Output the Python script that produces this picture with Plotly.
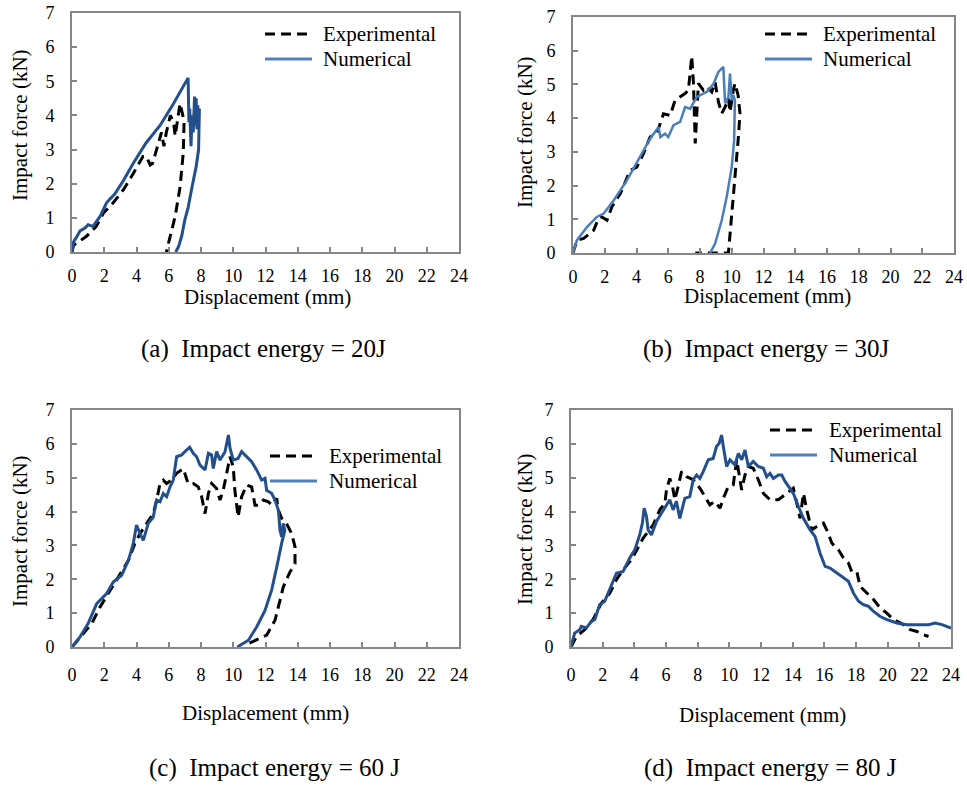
import plotly.graph_objects as go

# ---------------- DATA ----------------
x_ticks = list(range(0, 25, 2))
y_ticks = list(range(0, 8))

a_exp_x = [0, 0.1, 0.3, 0.9, 1.5, 1.95, 2.55, 3.2, 3.8, 4.4, 4.6, 4.85, 5.0, 5.35, 5.55, 5.7, 5.85, 6.1, 6.3, 6.4, 6.7, 6.85, 6.95, 6.9, 6.7, 6.4, 6.1, 5.9, 5.85]
a_exp_y = [0, 0.2, 0.26, 0.46, 0.75, 1.14, 1.44, 1.83, 2.3, 2.8, 2.8, 2.55, 2.6, 3.2, 3.5, 3.1, 3.5, 4.0, 3.8, 3.4, 4.35, 4.05, 3.8, 2.9, 1.9, 1.05, 0.46, 0.07, 0]
a_num_x = [0, 0.1, 0.3, 0.5, 0.8, 1.0, 1.3, 1.75, 2.15, 2.65, 3.2, 3.8, 4.6, 5.45, 6.3, 7.2, 7.25, 7.3, 7.38, 7.45, 7.52, 7.6, 7.65, 7.7, 7.75, 7.8, 7.85, 7.9, 7.85, 7.7, 7.45, 7.2, 7.0, 6.8, 6.6, 6.43]
a_num_y = [0, 0.3, 0.45, 0.62, 0.7, 0.8, 0.75, 1.05, 1.45, 1.7, 2.1, 2.6, 3.2, 3.7, 4.35, 5.1, 3.8, 4.2, 3.1, 4.0, 3.5, 4.55, 3.7, 4.5, 3.6, 4.3, 3.6, 4.2, 3.0, 2.5, 1.92, 1.3, 0.95, 0.46, 0.15, 0]

b_exp_x = [0, 0.25, 0.67, 1.3, 1.6, 1.82, 2.14, 2.45, 2.98, 3.6, 4.02, 4.44, 4.86, 5.28, 5.7, 6.12, 6.43, 7.06, 7.27, 7.48, 7.59, 7.7, 7.9, 8.21, 8.43, 8.74, 8.95, 9.16, 9.37, 9.58, 9.79, 9.89, 10.1, 10.2, 10.4, 10.52, 10.4, 10.3, 10.2, 10.06, 9.9, 9.79, 7.7]
b_exp_y = [0, 0.38, 0.43, 0.67, 1.02, 1.07, 0.97, 1.37, 1.76, 2.45, 2.55, 2.95, 3.44, 3.54, 4.13, 4.08, 4.53, 4.73, 4.83, 5.84, 5.02, 3.25, 5.03, 4.83, 4.93, 4.78, 5.07, 4.48, 4.14, 4.33, 4.58, 4.18, 4.83, 5.03, 4.68, 4.14, 3.34, 2.75, 2.36, 1.37, 0.38, 0.0, 0.0]
b_num_x = [0, 0.25, 0.88, 1.5, 1.93, 2.56, 3.4, 4.23, 4.86, 5.39, 5.5, 5.8, 6.0, 6.33, 6.75, 7.06, 7.38, 7.8, 8.43, 8.85, 9.16, 9.47, 9.58, 9.79, 9.89, 10.0, 10.1, 10.2, 10.15, 10.0, 9.68, 9.37, 8.95, 8.64]
b_num_y = [0, 0.38, 0.77, 1.07, 1.17, 1.56, 2.16, 2.85, 3.39, 3.74, 3.44, 3.54, 3.44, 3.79, 3.89, 4.33, 4.28, 4.63, 4.78, 5.02, 5.37, 5.52, 4.44, 4.63, 5.32, 4.53, 4.68, 4.53, 3.34, 2.55, 1.66, 0.97, 0.28, 0]

c_exp_x = [0, 0.6, 1.22, 1.74, 2.36, 2.98, 3.5, 3.9, 4.22, 4.63, 5.04, 5.25, 5.46, 5.66, 5.87, 6.18, 6.49, 6.9, 7.2, 7.52, 7.83, 8.04, 8.25, 8.46, 8.66, 8.97, 9.18, 9.38, 9.59, 9.8, 10.0, 10.1, 10.3, 10.52, 10.83, 11.14, 11.35, 11.55, 11.87, 12.18, 12.38, 12.69, 12.8, 13.0, 13.3, 13.62, 13.83, 13.83, 13.52, 13.3, 13.1, 12.9, 12.59, 12.07, 11.45, 10.94]
c_exp_y = [0, 0.35, 0.69, 1.18, 1.68, 2.17, 2.56, 3.06, 3.35, 3.65, 3.94, 4.34, 4.83, 4.93, 4.83, 4.93, 5.13, 5.27, 4.83, 4.83, 4.73, 4.44, 3.94, 4.54, 4.83, 4.68, 4.34, 4.63, 5.13, 5.62, 5.32, 4.63, 3.84, 4.44, 4.78, 4.73, 4.19, 4.19, 4.34, 4.29, 4.19, 4.39, 4.04, 3.8, 3.65, 3.35, 2.96, 2.46, 2.22, 1.97, 1.77, 1.38, 0.79, 0.35, 0.2, 0.1]
c_num_x = [0, 0.5, 1.0, 1.53, 2.15, 2.56, 3.08, 3.5, 3.8, 4.0, 4.22, 4.42, 4.73, 5.04, 5.25, 5.46, 5.66, 5.87, 6.08, 6.28, 6.49, 6.8, 7.0, 7.3, 7.52, 7.73, 7.94, 8.25, 8.46, 8.66, 8.76, 8.97, 9.18, 9.49, 9.7, 9.8, 10.0, 10.3, 10.52, 10.83, 11.14, 11.45, 11.76, 11.97, 12.07, 12.38, 12.59, 12.8, 12.9, 13.0, 13.1, 13.2, 13.0, 12.7, 12.38, 11.97, 11.45, 10.94, 10.25]
c_num_y = [0, 0.3, 0.69, 1.28, 1.58, 1.92, 2.12, 2.56, 3.06, 3.6, 3.35, 3.15, 3.65, 3.84, 4.34, 4.29, 4.53, 4.44, 4.73, 4.93, 5.62, 5.67, 5.77, 5.9, 5.72, 5.62, 5.37, 5.23, 5.72, 5.67, 5.27, 5.77, 5.52, 5.77, 6.26, 5.87, 5.52, 5.57, 5.77, 5.62, 5.47, 5.23, 4.93, 4.98, 4.63, 4.54, 4.34, 4.04, 3.45, 3.25, 3.65, 3.45, 3.06, 2.37, 1.68, 1.08, 0.59, 0.2, 0]

d_exp_x = [0, 0.34, 0.86, 1.39, 1.92, 2.45, 2.87, 3.29, 3.82, 4.24, 4.55, 4.87, 5.19, 5.61, 5.93, 6.03, 6.24, 6.41, 6.56, 6.77, 6.98, 7.3, 7.72, 8.14, 8.46, 8.77, 9.09, 9.41, 9.62, 9.93, 10.25, 10.46, 10.57, 10.78, 10.99, 11.2, 11.51, 11.83, 12.15, 12.57, 13.1, 13.62, 14.04, 14.26, 14.47, 14.68, 14.89, 15.2, 15.52, 15.94, 16.25, 16.47, 16.89, 17.21, 17.52, 17.73, 18.05, 18.26, 18.68, 19.11, 19.53, 19.95, 20.37, 21.0, 21.43, 21.85, 22.27, 22.58]
d_exp_y = [0, 0.31, 0.51, 0.81, 1.3, 1.59, 1.99, 2.28, 2.58, 2.92, 3.21, 3.41, 3.61, 4.05, 4.25, 4.64, 4.98, 4.74, 4.35, 4.74, 5.18, 5.03, 4.94, 4.69, 4.44, 4.2, 4.3, 4.1, 4.39, 4.74, 4.79, 5.53, 5.23, 4.64, 5.08, 5.33, 5.28, 4.94, 4.54, 4.35, 4.35, 4.54, 4.69, 4.25, 3.8, 4.54, 4.05, 3.46, 3.56, 3.66, 3.36, 3.07, 2.87, 2.63, 2.48, 2.23, 2.23, 1.79, 1.59, 1.4, 1.15, 1.0, 0.81, 0.66, 0.51, 0.46, 0.36, 0.31]
d_num_x = [0, 0.23, 0.55, 0.65, 0.97, 1.29, 1.5, 1.81, 2.13, 2.45, 2.87, 3.29, 3.71, 4.03, 4.34, 4.51, 4.62, 4.77, 4.87, 5.08, 5.4, 5.71, 6.03, 6.24, 6.45, 6.66, 6.87, 7.19, 7.5, 7.72, 7.93, 8.14, 8.35, 8.67, 8.98, 9.19, 9.36, 9.51, 9.62, 9.83, 10.04, 10.35, 10.57, 10.78, 10.99, 11.2, 11.51, 11.83, 12.15, 12.36, 12.57, 12.78, 13.1, 13.31, 13.52, 13.73, 14.04, 14.36, 14.68, 15.1, 15.42, 15.73, 16.05, 16.36, 16.79, 17.21, 17.52, 17.84, 18.16, 18.47, 18.79, 19.11, 19.53, 19.95, 20.58, 21.21, 22.06, 22.58, 23.0, 23.43, 24.0]
d_num_y = [0, 0.41, 0.51, 0.61, 0.56, 0.76, 0.81, 1.25, 1.35, 1.69, 2.18, 2.23, 2.63, 2.87, 3.31, 3.66, 4.1, 3.85, 3.46, 3.31, 3.71, 3.95, 4.2, 4.35, 4.05, 4.3, 3.8, 4.39, 4.44, 4.94, 5.08, 4.98, 5.18, 5.53, 5.57, 5.92, 6.02, 6.26, 5.92, 5.33, 5.53, 5.38, 5.72, 5.53, 5.82, 5.33, 5.48, 5.33, 5.28, 5.03, 5.13, 4.98, 5.08, 5.08, 4.89, 4.74, 4.54, 4.15, 3.8, 3.46, 3.26, 2.77, 2.38, 2.33, 2.18, 2.04, 1.94, 1.59, 1.35, 1.25, 1.2, 1.05, 0.9, 0.81, 0.71, 0.66, 0.66, 0.66, 0.71, 0.66, 0.56]

captions = ["(a)\u00a0\u00a0Impact energy = 20J", "(b)\u00a0\u00a0Impact energy = 30J",
            "(c)\u00a0\u00a0Impact energy = 60 J", "(d)\u00a0\u00a0Impact energy = 80 J"]
series_names = ["Experimental", "Numerical"]
x_title = "Displacement (mm)"
y_title = "Impact force (kN)"

# ---------------- LAYOUT ----------------
W, H = 967, 785
FONT = "Liberation Serif"
FRAME = "#868686"
EXP_COLOR = "black"
NUM_DARK = "#23508C"
NUM_LIGHT = "#4A7EBB"

def px_x(p):
    return p / W

def px_y(p):
    return 1 - p / H

# plot-area boxes in pixels: (left, right, top, bottom)
boxes = [(72, 459, 13, 252), (573, 954, 17, 253), (72, 459, 410, 647), (571, 951, 410, 647)]
num_colors = [NUM_DARK, NUM_LIGHT, NUM_DARK, NUM_DARK]
num_widths = [3, 2.5, 3, 3]
x_standoff = [6, 6, 10, 10]
data = [(a_exp_x, a_exp_y, a_num_x, a_num_y), (b_exp_x, b_exp_y, b_num_x, b_num_y),
        (c_exp_x, c_exp_y, c_num_x, c_num_y), (d_exp_x, d_exp_y, d_num_x, d_num_y)]
# legend (line start x, line end x, text x, row1 y, row2 y)
legends = [(265, 312, 321, 34, 59), (765, 812, 821, 34, 59), (270, 317, 327, 456, 481), (770, 817, 827, 430, 455)]
ytitle_pos = [(20, 125), (525, 132), (20, 531), (525, 529)]
xtitle_pos = [(267, 297), (767, 296), (265, 713), (762, 715)]
caption_pos = [(263, 349), (766, 349), (274, 768), (770, 768)]

fig = go.Figure()
shapes = []
annotations = []

for i, (box, (ex, ey, nx, ny)) in enumerate(zip(boxes, data)):
    k = "" if i == 0 else str(i + 1)
    xa, ya = "x" + k, "y" + k
    fig.add_trace(go.Scatter(x=ex, y=ey, mode="lines", name=series_names[0], xaxis=xa, yaxis=ya,
                             line=dict(color=EXP_COLOR, width=3, dash="10px,6px"), showlegend=False))
    fig.add_trace(go.Scatter(x=nx, y=ny, mode="lines", name=series_names[1], xaxis=xa, yaxis=ya,
                             line=dict(color=num_colors[i], width=num_widths[i]), showlegend=False))
    l, r, t, b = box
    axis_common = dict(showgrid=False, zeroline=False, showline=True, mirror=True, automargin=False,
                       linecolor=FRAME, linewidth=2, ticks="inside", ticklen=5, tickwidth=1.5,
                       tickcolor=FRAME, tickfont=dict(family=FONT, size=18, color="black"))
    fig.update_layout(**{
        "xaxis" + k: dict(domain=[px_x(l), px_x(r)], range=[0, 24], tickvals=x_ticks,
                          anchor=ya, ticklabelstandoff=x_standoff[i], **axis_common),
        "yaxis" + k: dict(domain=[px_y(b), px_y(t)], range=[0, 7], tickvals=y_ticks,
                          anchor=xa, ticklabelstandoff=12, **axis_common),
    })
    # legend drawn in paper space
    lx0, lx1, tx, r1, r2 = legends[i]
    shapes.append(dict(type="line", xref="paper", yref="paper", x0=px_x(lx0), x1=px_x(lx1),
                       y0=px_y(r1), y1=px_y(r1), line=dict(color=EXP_COLOR, width=3, dash="10px,6px")))
    shapes.append(dict(type="line", xref="paper", yref="paper", x0=px_x(lx0), x1=px_x(lx1),
                       y0=px_y(r2), y1=px_y(r2), line=dict(color="#4F81BD", width=3)))
    for name, ry in zip(series_names, (r1, r2)):
        annotations.append(dict(text=name, xref="paper", yref="paper", x=px_x(tx), y=px_y(ry),
                                xanchor="left", yanchor="middle", showarrow=False,
                                font=dict(family=FONT, size=21, color="black")))
    yx, yy = ytitle_pos[i]
    annotations.append(dict(text=y_title, xref="paper", yref="paper", x=px_x(yx), y=px_y(yy),
                            xanchor="center", yanchor="middle", textangle=-90, showarrow=False,
                            font=dict(family=FONT, size=21, color="black")))
    xx, xy = xtitle_pos[i]
    annotations.append(dict(text=x_title, xref="paper", yref="paper", x=px_x(xx), y=px_y(xy),
                            xanchor="center", yanchor="middle", showarrow=False,
                            font=dict(family=FONT, size=21, color="black")))
    cx, cy = caption_pos[i]
    annotations.append(dict(text=captions[i], xref="paper", yref="paper", x=px_x(cx), y=px_y(cy),
                            xanchor="center", yanchor="middle", showarrow=False,
                            font=dict(family=FONT, size=25, color="black")))

fig.update_layout(width=W, height=H, margin=dict(l=0, r=0, t=0, b=0, pad=0),
                  paper_bgcolor="white", plot_bgcolor="white", font=dict(family=FONT),
                  shapes=shapes, annotations=annotations, showlegend=False)

fig.write_html("out.html")
